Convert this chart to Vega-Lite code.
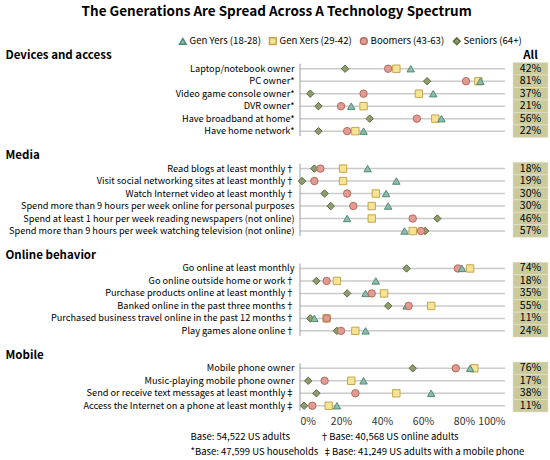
{
  "$schema": "https://vega.github.io/schema/vega-lite/v6.json",
  "padding": {"left": 5, "top": 4, "right": 2, "bottom": 0},
  "title": {
    "text": "The Generations Are Spread Across A Technology Spectrum",
    "fontSize": 13.5,
    "fontWeight": "bold",
    "anchor": "middle",
    "frame": "bounds",
    "offset": 18
  },
  "datasets": {
    "all": [
      {"row": "Laptop/notebook owner", "all": 0.42},
      {"row": "PC owner*", "all": 0.81},
      {"row": "Video game console owner*", "all": 0.37},
      {"row": "DVR owner*", "all": 0.21},
      {"row": "Have broadband at home*", "all": 0.56},
      {"row": "Have home network*", "all": 0.22},
      {"row": "Read blogs at least monthly†", "all": 0.18},
      {"row": "Visit social networking sites at least monthly†", "all": 0.19},
      {"row": "Watch Internet video at least monthly†", "all": 0.30},
      {"row": "Spend more than 9 hours per week online for personal purposes", "all": 0.30},
      {"row": "Spend at least 1 hour per week reading newspapers (not online)", "all": 0.46},
      {"row": "Spend more than 9 hours per week watching television (not online)", "all": 0.57},
      {"row": "Go online at least monthly", "all": 0.74},
      {"row": "Go online outside home or work†", "all": 0.18},
      {"row": "Purchase products online at least monthly†", "all": 0.35},
      {"row": "Banked online in the past three months†", "all": 0.55},
      {"row": "Purchased business travel online in the past 12 months†", "all": 0.11},
      {"row": "Play games alone online†", "all": 0.24},
      {"row": "Mobile phone owner", "all": 0.76},
      {"row": "Music-playing mobile phone owner", "all": 0.17},
      {"row": "Send or receive text messages at least monthly‡", "all": 0.38},
      {"row": "Access the Internet on a phone at least monthly‡", "all": 0.11}
    ],
    "sections": [
      {"first": "Laptop/notebook owner", "last": "Have home network*"},
      {"first": "Read blogs at least monthly†", "last": "Spend more than 9 hours per week watching television (not online)"},
      {"first": "Go online at least monthly", "last": "Play games alone online†"},
      {"first": "Mobile phone owner", "last": "Access the Internet on a phone at least monthly‡"}
    ],
    "dots": [
      {"row": "Laptop/notebook owner", "gen": "Seniors (64+)", "pct": 0.22},
      {"row": "Laptop/notebook owner", "gen": "Gen Xers (29-42)", "pct": 0.47},
      {"row": "Laptop/notebook owner", "gen": "Boomers (43-63)", "pct": 0.43},
      {"row": "Laptop/notebook owner", "gen": "Gen Yers (18-28)", "pct": 0.54},
      {"row": "PC owner*", "gen": "Seniors (64+)", "pct": 0.62},
      {"row": "PC owner*", "gen": "Gen Xers (29-42)", "pct": 0.87},
      {"row": "PC owner*", "gen": "Boomers (43-63)", "pct": 0.81},
      {"row": "PC owner*", "gen": "Gen Yers (18-28)", "pct": 0.88},
      {"row": "Video game console owner*", "gen": "Seniors (64+)", "pct": 0.05},
      {"row": "Video game console owner*", "gen": "Gen Xers (29-42)", "pct": 0.58},
      {"row": "Video game console owner*", "gen": "Boomers (43-63)", "pct": 0.31},
      {"row": "Video game console owner*", "gen": "Gen Yers (18-28)", "pct": 0.65},
      {"row": "DVR owner*", "gen": "Seniors (64+)", "pct": 0.09},
      {"row": "DVR owner*", "gen": "Gen Xers (29-42)", "pct": 0.31},
      {"row": "DVR owner*", "gen": "Boomers (43-63)", "pct": 0.20},
      {"row": "DVR owner*", "gen": "Gen Yers (18-28)", "pct": 0.25},
      {"row": "Have broadband at home*", "gen": "Seniors (64+)", "pct": 0.34},
      {"row": "Have broadband at home*", "gen": "Gen Xers (29-42)", "pct": 0.66},
      {"row": "Have broadband at home*", "gen": "Boomers (43-63)", "pct": 0.57},
      {"row": "Have broadband at home*", "gen": "Gen Yers (18-28)", "pct": 0.69},
      {"row": "Have home network*", "gen": "Seniors (64+)", "pct": 0.09},
      {"row": "Have home network*", "gen": "Gen Xers (29-42)", "pct": 0.27},
      {"row": "Have home network*", "gen": "Boomers (43-63)", "pct": 0.23},
      {"row": "Have home network*", "gen": "Gen Yers (18-28)", "pct": 0.31},
      {"row": "Read blogs at least monthly†", "gen": "Seniors (64+)", "pct": 0.07},
      {"row": "Read blogs at least monthly†", "gen": "Gen Xers (29-42)", "pct": 0.21},
      {"row": "Read blogs at least monthly†", "gen": "Boomers (43-63)", "pct": 0.10},
      {"row": "Read blogs at least monthly†", "gen": "Gen Yers (18-28)", "pct": 0.33},
      {"row": "Visit social networking sites at least monthly†", "gen": "Seniors (64+)", "pct": 0.01},
      {"row": "Visit social networking sites at least monthly†", "gen": "Gen Xers (29-42)", "pct": 0.21},
      {"row": "Visit social networking sites at least monthly†", "gen": "Boomers (43-63)", "pct": 0.07},
      {"row": "Visit social networking sites at least monthly†", "gen": "Gen Yers (18-28)", "pct": 0.47},
      {"row": "Watch Internet video at least monthly†", "gen": "Seniors (64+)", "pct": 0.12},
      {"row": "Watch Internet video at least monthly†", "gen": "Gen Xers (29-42)", "pct": 0.37},
      {"row": "Watch Internet video at least monthly†", "gen": "Boomers (43-63)", "pct": 0.23},
      {"row": "Watch Internet video at least monthly†", "gen": "Gen Yers (18-28)", "pct": 0.42},
      {"row": "Spend more than 9 hours per week online for personal purposes", "gen": "Seniors (64+)", "pct": 0.15},
      {"row": "Spend more than 9 hours per week online for personal purposes", "gen": "Gen Xers (29-42)", "pct": 0.35},
      {"row": "Spend more than 9 hours per week online for personal purposes", "gen": "Boomers (43-63)", "pct": 0.26},
      {"row": "Spend more than 9 hours per week online for personal purposes", "gen": "Gen Yers (18-28)", "pct": 0.43},
      {"row": "Spend at least 1 hour per week reading newspapers (not online)", "gen": "Seniors (64+)", "pct": 0.67},
      {"row": "Spend at least 1 hour per week reading newspapers (not online)", "gen": "Gen Xers (29-42)", "pct": 0.35},
      {"row": "Spend at least 1 hour per week reading newspapers (not online)", "gen": "Boomers (43-63)", "pct": 0.55},
      {"row": "Spend at least 1 hour per week reading newspapers (not online)", "gen": "Gen Yers (18-28)", "pct": 0.23},
      {"row": "Spend more than 9 hours per week watching television (not online)", "gen": "Seniors (64+)", "pct": 0.61},
      {"row": "Spend more than 9 hours per week watching television (not online)", "gen": "Gen Xers (29-42)", "pct": 0.55},
      {"row": "Spend more than 9 hours per week watching television (not online)", "gen": "Boomers (43-63)", "pct": 0.59},
      {"row": "Spend more than 9 hours per week watching television (not online)", "gen": "Gen Yers (18-28)", "pct": 0.51},
      {"row": "Go online at least monthly", "gen": "Seniors (64+)", "pct": 0.52},
      {"row": "Go online at least monthly", "gen": "Gen Xers (29-42)", "pct": 0.83},
      {"row": "Go online at least monthly", "gen": "Boomers (43-63)", "pct": 0.77},
      {"row": "Go online at least monthly", "gen": "Gen Yers (18-28)", "pct": 0.79},
      {"row": "Go online outside home or work†", "gen": "Seniors (64+)", "pct": 0.08},
      {"row": "Go online outside home or work†", "gen": "Gen Xers (29-42)", "pct": 0.18},
      {"row": "Go online outside home or work†", "gen": "Boomers (43-63)", "pct": 0.13},
      {"row": "Go online outside home or work†", "gen": "Gen Yers (18-28)", "pct": 0.37},
      {"row": "Purchase products online at least monthly†", "gen": "Seniors (64+)", "pct": 0.23},
      {"row": "Purchase products online at least monthly†", "gen": "Gen Xers (29-42)", "pct": 0.41},
      {"row": "Purchase products online at least monthly†", "gen": "Gen Yers (18-28)", "pct": 0.32},
      {"row": "Purchase products online at least monthly†", "gen": "Boomers (43-63)", "pct": 0.35},
      {"row": "Banked online in the past three months†", "gen": "Seniors (64+)", "pct": 0.43},
      {"row": "Banked online in the past three months†", "gen": "Gen Xers (29-42)", "pct": 0.64},
      {"row": "Banked online in the past three months†", "gen": "Gen Yers (18-28)", "pct": 0.52},
      {"row": "Banked online in the past three months†", "gen": "Boomers (43-63)", "pct": 0.53},
      {"row": "Purchased business travel online in the past 12 months†", "gen": "Seniors (64+)", "pct": 0.05},
      {"row": "Purchased business travel online in the past 12 months†", "gen": "Gen Xers (29-42)", "pct": 0.13},
      {"row": "Purchased business travel online in the past 12 months†", "gen": "Boomers (43-63)", "pct": 0.13},
      {"row": "Purchased business travel online in the past 12 months†", "gen": "Gen Yers (18-28)", "pct": 0.07},
      {"row": "Play games alone online†", "gen": "Seniors (64+)", "pct": 0.18},
      {"row": "Play games alone online†", "gen": "Gen Xers (29-42)", "pct": 0.27},
      {"row": "Play games alone online†", "gen": "Boomers (43-63)", "pct": 0.20},
      {"row": "Play games alone online†", "gen": "Gen Yers (18-28)", "pct": 0.32},
      {"row": "Mobile phone owner", "gen": "Seniors (64+)", "pct": 0.55},
      {"row": "Mobile phone owner", "gen": "Gen Xers (29-42)", "pct": 0.85},
      {"row": "Mobile phone owner", "gen": "Boomers (43-63)", "pct": 0.76},
      {"row": "Mobile phone owner", "gen": "Gen Yers (18-28)", "pct": 0.83},
      {"row": "Music-playing mobile phone owner", "gen": "Seniors (64+)", "pct": 0.04},
      {"row": "Music-playing mobile phone owner", "gen": "Gen Xers (29-42)", "pct": 0.25},
      {"row": "Music-playing mobile phone owner", "gen": "Boomers (43-63)", "pct": 0.12},
      {"row": "Music-playing mobile phone owner", "gen": "Gen Yers (18-28)", "pct": 0.31},
      {"row": "Send or receive text messages at least monthly‡", "gen": "Seniors (64+)", "pct": 0.08},
      {"row": "Send or receive text messages at least monthly‡", "gen": "Gen Xers (29-42)", "pct": 0.47},
      {"row": "Send or receive text messages at least monthly‡", "gen": "Boomers (43-63)", "pct": 0.27},
      {"row": "Send or receive text messages at least monthly‡", "gen": "Gen Yers (18-28)", "pct": 0.64},
      {"row": "Access the Internet on a phone at least monthly‡", "gen": "Seniors (64+)", "pct": 0.02},
      {"row": "Access the Internet on a phone at least monthly‡", "gen": "Gen Xers (29-42)", "pct": 0.14},
      {"row": "Access the Internet on a phone at least monthly‡", "gen": "Boomers (43-63)", "pct": 0.06},
      {"row": "Access the Internet on a phone at least monthly‡", "gen": "Gen Yers (18-28)", "pct": 0.18}
    ]
  },
  "spacing": 8,
  "bounds": "flush",
  "hconcat": [
    {
      "width": 205,
      "height": 362,
      "layer": [
        {
          "data": {"name": "all"},
          "mark": {"type": "rule", "color": "#cacaca", "strokeWidth": 1.5},
          "encoding": {
            "y": {"field": "row", "type": "nominal"},
            "x": {"datum": 0, "type": "quantitative"},
            "x2": {"datum": 1}
          }
        },
        {
          "data": {"name": "sections"},
          "mark": {"type": "rule", "color": "#9c9c9c", "strokeWidth": 1},
          "encoding": {
            "x": {"datum": 0, "type": "quantitative"},
            "y": {"field": "first", "type": "nominal", "bandPosition": 0.1},
            "y2": {"field": "last", "bandPosition": 0.9}
          }
        },
        {
          "data": {"name": "dots"},
          "mark": {"type": "point", "filled": true, "size": 55, "strokeWidth": 1, "opacity": 1},
          "encoding": {
            "x": {
              "field": "pct",
              "type": "quantitative",
              "scale": {"domain": [0, 1]},
              "axis": {
                "values": [0, 0.2, 0.4, 0.6, 0.8, 1],
                "format": ".0%",
                "domain": false,
                "ticks": false,
                "grid": false,
                "labelPadding": 4,
                "labelFontSize": 10.5,
                "labelColor": "#333333",
                "title": [
                  "Base: 54,522 US adults\u00a0\u00a0\u00a0\u00a0\u00a0\u00a0\u00a0\u00a0\u00a0\u00a0\u00a0\u00a0\u00a0\u00a0†Base: 40,568 US online adults",
                  "*Base: 47,599 US households\u00a0\u00a0‡Base: 41,249 US adults with a mobile phone"
                ],
                "titleFontSize": 9.5,
                "titleFontWeight": "normal",
                "titleColor": "#000000",
                "titleAnchor": "start",
                "titleAlign": "left",
                "titleBaseline": "top",
                "titleLineHeight": 15,
                "titleX": -110,
                "titleY": 19
              }
            },
            "y": {
              "field": "row",
              "type": "nominal",
              "scale": {
                "type": "band",
                "paddingInner": 0,
                "paddingOuter": 0,
                "domain": [
                  "Devices and access",
                  "Laptop/notebook owner", "PC owner*", "Video game console owner*", "DVR owner*", "Have broadband at home*", "Have home network*",
                  "_1",
                  "Media",
                  "Read blogs at least monthly†", "Visit social networking sites at least monthly†", "Watch Internet video at least monthly†", "Spend more than 9 hours per week online for personal purposes", "Spend at least 1 hour per week reading newspapers (not online)", "Spend more than 9 hours per week watching television (not online)",
                  "_2",
                  "Online behavior",
                  "Go online at least monthly", "Go online outside home or work†", "Purchase products online at least monthly†", "Banked online in the past three months†", "Purchased business travel online in the past 12 months†", "Play games alone online†",
                  "_3",
                  "Mobile",
                  "Mobile phone owner", "Music-playing mobile phone owner", "Send or receive text messages at least monthly‡", "Access the Internet on a phone at least monthly‡"
                ]
              },
              "axis": {
                "title": null,
                "domain": false,
                "ticks": false,
                "labelLimit": 0,
                "labelColor": "#000000",
                "labelExpr": "indexof(datum.value, '_') == 0 ? '' : datum.value",
                "labelFontSize": {"condition": {"test": "indexof(['Devices and access','Media','Online behavior','Mobile'], datum.value) >= 0", "value": 11.5}, "value": 9.2},
                "labelFontWeight": {"condition": {"test": "indexof(['Devices and access','Media','Online behavior','Mobile'], datum.value) >= 0", "value": "bold"}, "value": "normal"},
                "labelAlign": {"condition": {"test": "indexof(['Devices and access','Media','Online behavior','Mobile'], datum.value) >= 0", "value": "left"}, "value": "right"},
                "labelPadding": {"condition": {"test": "indexof(['Devices and access','Media','Online behavior','Mobile'], datum.value) >= 0", "value": 295}, "value": 6}
              }
            },
            "shape": {
              "field": "gen",
              "type": "nominal",
              "scale": {
                "domain": ["Gen Yers (18-28)", "Gen Xers (29-42)", "Boomers (43-63)", "Seniors (64+)"],
                "range": ["triangle-up", "square", "circle", "diamond"]
              },
              "legend": {"title": null, "orient": "none", "direction": "horizontal", "legendX": -122, "legendY": -14, "labelFontSize": 9.6, "symbolSize": 45, "columnPadding": 5, "labelOffset": 2}
            },
            "fill": {
              "field": "gen",
              "type": "nominal",
              "scale": {
                "domain": ["Gen Yers (18-28)", "Gen Xers (29-42)", "Boomers (43-63)", "Seniors (64+)"],
                "range": ["#8fbcaa", "#f7e394", "#e29b91", "#8f9c6c"]
              },
              "legend": {"title": null, "orient": "none", "direction": "horizontal", "legendX": -122, "legendY": -14, "labelFontSize": 9.6, "symbolSize": 45, "columnPadding": 5, "labelOffset": 2}
            },
            "stroke": {
              "field": "gen",
              "type": "nominal",
              "scale": {
                "domain": ["Gen Yers (18-28)", "Gen Xers (29-42)", "Boomers (43-63)", "Seniors (64+)"],
                "range": ["#4f8a78", "#c2a74e", "#b46b60", "#5d6a41"]
              },
              "legend": {"title": null, "orient": "none", "direction": "horizontal", "legendX": -122, "legendY": -14, "labelFontSize": 9.6, "symbolSize": 45, "columnPadding": 5, "labelOffset": 2}
            }
          }
        }
      ]
    },
    {
      "width": 35,
      "height": 362,
      "layer": [
        {
          "data": {"name": "all"},
          "mark": {"type": "rect", "fill": "#cbca9d", "stroke": "#e2e2cc", "strokeWidth": 0.6},
          "encoding": {
            "y": {
              "field": "row",
              "type": "nominal",
              "axis": null,
              "scale": {
                "type": "band",
                "paddingInner": 0,
                "paddingOuter": 0,
                "domain": [
                  "Devices and access",
                  "Laptop/notebook owner", "PC owner*", "Video game console owner*", "DVR owner*", "Have broadband at home*", "Have home network*",
                  "_1",
                  "Media",
                  "Read blogs at least monthly†", "Visit social networking sites at least monthly†", "Watch Internet video at least monthly†", "Spend more than 9 hours per week online for personal purposes", "Spend at least 1 hour per week reading newspapers (not online)", "Spend more than 9 hours per week watching television (not online)",
                  "_2",
                  "Online behavior",
                  "Go online at least monthly", "Go online outside home or work†", "Purchase products online at least monthly†", "Banked online in the past three months†", "Purchased business travel online in the past 12 months†", "Play games alone online†",
                  "_3",
                  "Mobile",
                  "Mobile phone owner", "Music-playing mobile phone owner", "Send or receive text messages at least monthly‡", "Access the Internet on a phone at least monthly‡"
                ]
              }
            }
          }
        },
        {
          "data": {"name": "all"},
          "mark": {"type": "text", "fontSize": 10.5, "color": "#000000"},
          "encoding": {
            "y": {"field": "row", "type": "nominal"},
            "text": {"field": "all", "type": "quantitative", "format": ".0%"}
          }
        },
        {
          "data": {"values": [{"row": "Devices and access", "label": "All"}]},
          "mark": {"type": "text", "fontSize": 11.5, "fontWeight": "bold", "color": "#000000"},
          "encoding": {
            "y": {"field": "row", "type": "nominal"},
            "text": {"field": "label", "type": "nominal"}
          }
        }
      ]
    }
  ],
  "config": {
    "font": "Noto Sans CJK KR",
    "view": {"stroke": null},
    "axis": {"labelFont": "Noto Sans CJK KR", "titleFont": "Noto Sans CJK KR"},
    "legend": {"labelFont": "Noto Sans CJK KR", "labelColor": "#000000"},
    "title": {"font": "Noto Sans CJK KR", "color": "#000000"}
  }
}
